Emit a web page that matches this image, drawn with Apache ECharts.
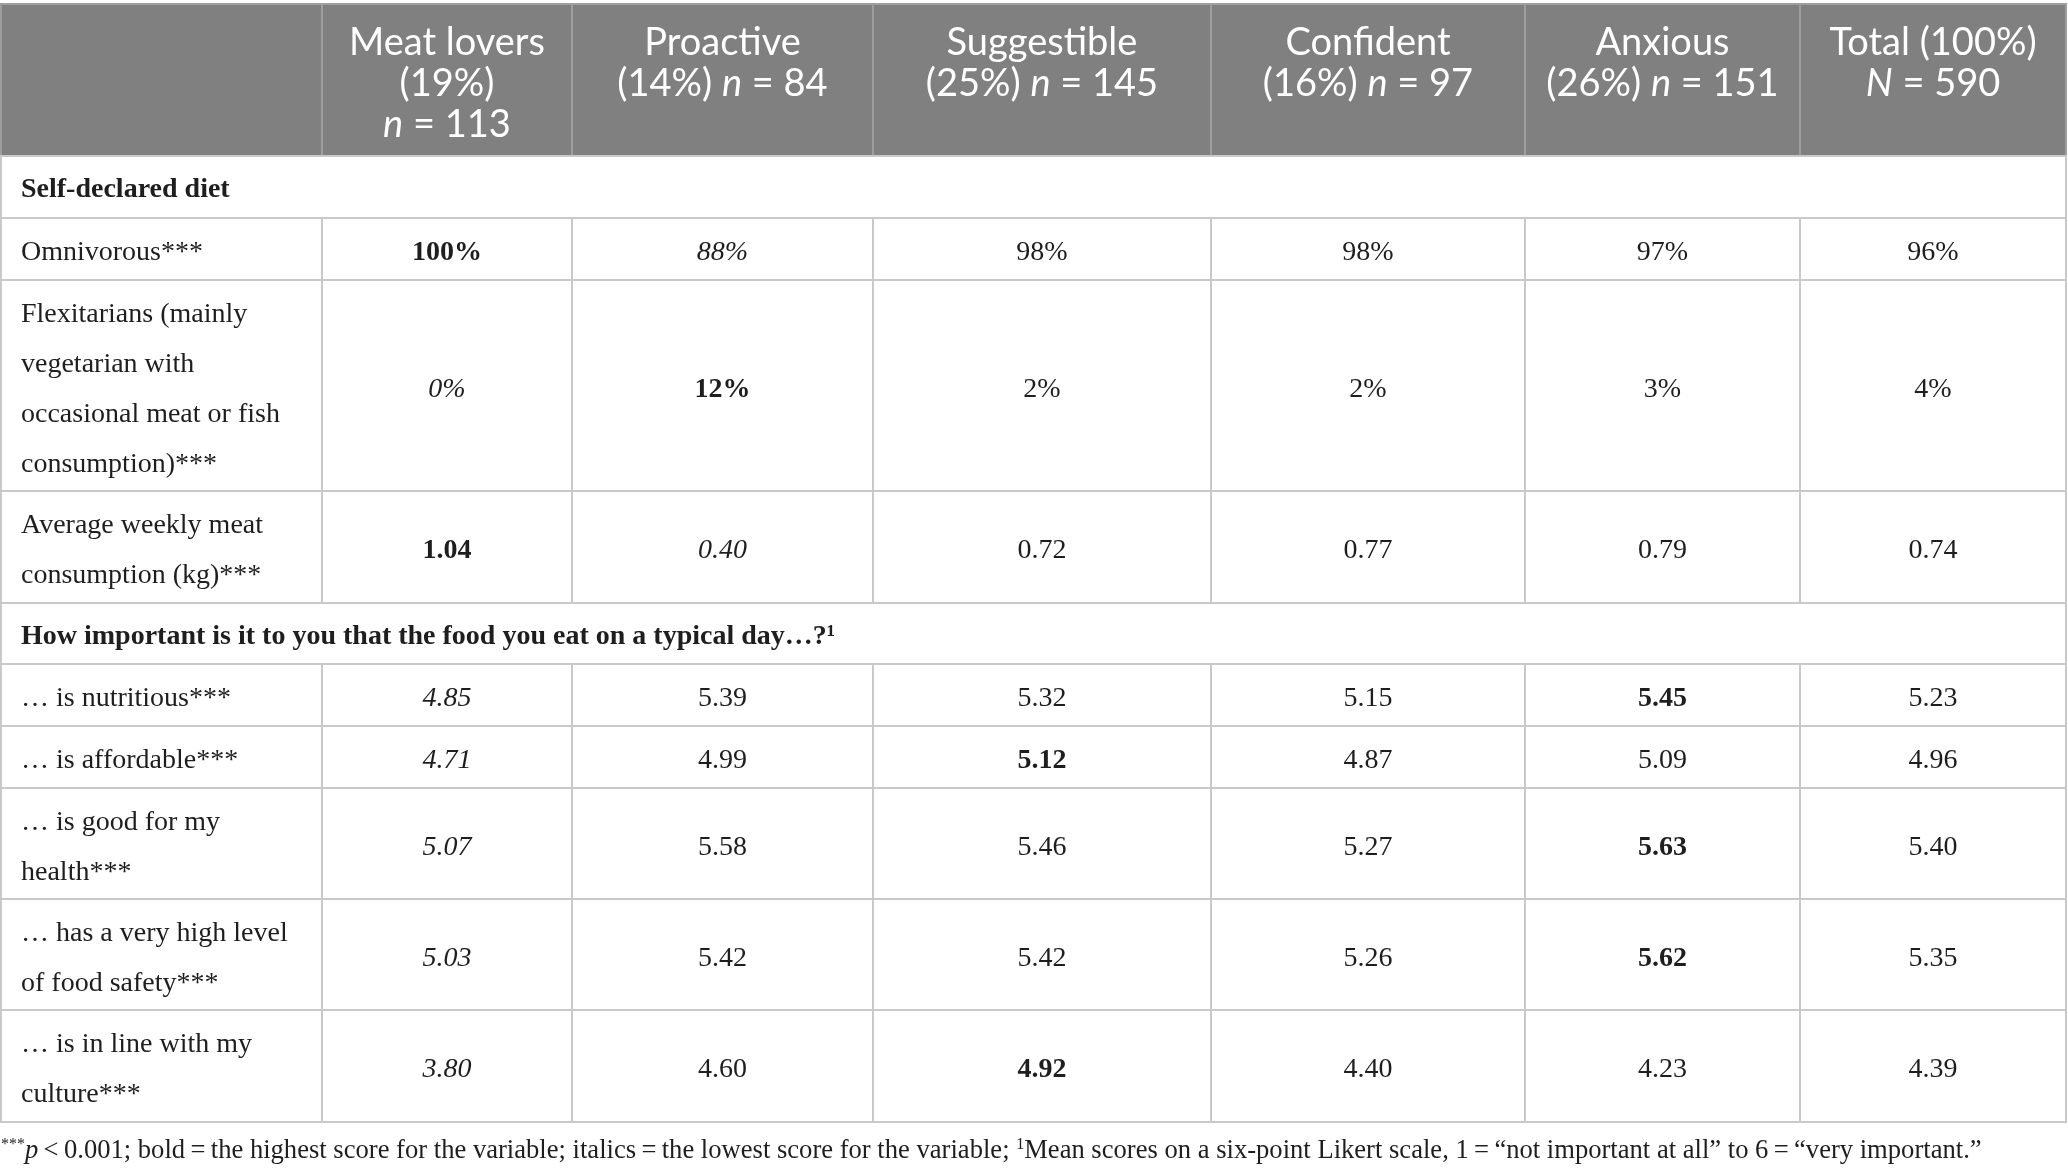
<!DOCTYPE html>
<html>
<head>
<meta charset="utf-8">
<script src="https://cdn.jsdelivr.net/npm/echarts@6/dist/echarts.min.js"></script>
<style>
  html, body { margin: 0; padding: 0; background: #fff; }
  #main { width: 2068px; height: 1176px; }
</style>
</head>
<body>
<div id="main"></div>
<script>
// column headers ({i|..} is italic)
var groupHeaders = [
  'Meat lovers\n(19%)\n{i|n} = 113',
  'Proactive\n(14%) {i|n} = 84',
  'Suggestible\n(25%) {i|n} = 145',
  'Confident\n(16%) {i|n} = 97',
  'Anxious\n(26%) {i|n} = 151',
  'Total (100%)\n{i|N} = 590'
];

// section 1
var dietTitle = 'Self-declared diet';
var dietLabels = [
  'Omnivorous***',
  'Flexitarians (mainly\nvegetarian with\noccasional meat or fish\nconsumption)***',
  'Average weekly meat\nconsumption (kg)***'
];
var dietUnits = ['%', '%', 'kg'];
var dietValues = [
  [100, 88, 98, 98, 97, 96],
  [0, 12, 2, 2, 3, 4],
  [1.04, 0.40, 0.72, 0.77, 0.79, 0.74]
];

// section 2
var importanceTitle = 'How important is it to you that the food you eat on a typical day\u2026?\u00b9';
var importanceLabels = [
  '\u2026 is nutritious***',
  '\u2026 is affordable***',
  '\u2026 is good for my\nhealth***',
  '\u2026 has a very high level\nof food safety***',
  '\u2026 is in line with my\nculture***'
];
var importanceValues = [
  [4.85, 5.39, 5.32, 5.15, 5.45, 5.23],
  [4.71, 4.99, 5.12, 4.87, 5.09, 4.96],
  [5.07, 5.58, 5.46, 5.27, 5.63, 5.40],
  [5.03, 5.42, 5.42, 5.26, 5.62, 5.35],
  [3.80, 4.60, 4.92, 4.40, 4.23, 4.39]
];

// layout (table grid lines, in axis units)
var colEdges = [1, 322, 572, 873, 1211, 1525, 1800, 2066];
var rowEdges = [4, 156, 218, 280, 491, 603, 664, 726, 788, 899, 1010, 1122];

var SERIF = '"Liberation Serif", "DejaVu Serif", serif';
var SANS = 'Lato, "Open Sans", sans-serif';
var cells = [];
var cellData = [];

function addCell(c, r, span, info) {
  cellData.push([c, r, span]);
  cells.push(info);
}

// header
addCell(0, 0, 1, { kind: 'head', text: '' });
groupHeaders.forEach(function (h, i) {
  addCell(i + 1, 0, 1, { kind: 'head', text: h });
});

function fmt(v, unit) {
  if (unit === '%') return v + '%';
  return v.toFixed(2);
}

function addSection(row, title, labels, values, units) {
  addCell(0, row, 7, { kind: 'section', text: title });
  labels.forEach(function (lab, k) {
    var r = row + 1 + k;
    addCell(0, r, 1, { kind: 'label', text: lab });
    var vals = values[k];
    var groups = vals.slice(0, 5); // highest / lowest among the five groups
    var hi = Math.max.apply(null, groups), lo = Math.min.apply(null, groups);
    vals.forEach(function (v, j) {
      var style = '';
      if (j < 5 && v === hi) style = 'bold';
      else if (j < 5 && v === lo) style = 'italic';
      addCell(j + 1, r, 1, { kind: 'value', text: fmt(v, units ? units[k] : ''), style: style });
    });
  });
}
addSection(1, dietTitle, dietLabels, dietValues, dietUnits);
addSection(5, importanceTitle, importanceLabels, importanceValues, null);

var myChart = echarts.init(document.getElementById('main'));

function renderItem(params, api) {
  var c = api.value(0), r = api.value(1), span = api.value(2);
  var p0 = api.coord([colEdges[c], rowEdges[r]]);
  var p1 = api.coord([colEdges[c + span], rowEdges[r + 1]]);
  var info = cells[params.dataIndex];
  var w = p1[0] - p0[0], h = p1[1] - p0[1];
  var isHead = info.kind === 'head';
  var rect = {
    type: 'rect',
    shape: { x: p0[0], y: p0[1], width: w, height: h },
    style: {
      fill: isHead ? '#808080' : '#ffffff',
      stroke: isHead ? '#9e9e9e' : '#c9c9c9',
      lineWidth: 2
    }
  };
  var ts;
  if (isHead) {
    ts = {
      text: info.text, x: p0[0] + w / 2, y: p0[1] + 18,
      align: 'center', verticalAlign: 'top',
      fontFamily: SANS, fontSize: 38, fill: '#ffffff', lineHeight: 41,
      rich: { i: { fontFamily: SANS, fontSize: 38, fontStyle: 'italic', fill: '#ffffff', lineHeight: 41 } }
    };
  } else if (info.kind === 'section') {
    ts = {
      text: info.text, x: p0[0] + 20, y: p0[1] + h / 2 + 3,
      align: 'left', verticalAlign: 'middle',
      fontFamily: SERIF, fontSize: 28, fontWeight: 'bold', fill: '#1e1e1e'
    };
  } else if (info.kind === 'label') {
    ts = {
      text: info.text, x: p0[0] + 20, y: p0[1] + h / 2 + 4,
      align: 'left', verticalAlign: 'middle',
      fontFamily: SERIF, fontSize: 28, fill: '#1e1e1e', lineHeight: 50
    };
  } else {
    ts = {
      text: info.text, x: p0[0] + w / 2, y: p0[1] + h / 2 + 4,
      align: 'center', verticalAlign: 'middle',
      fontFamily: SERIF, fontSize: 28, fill: '#1e1e1e',
      fontWeight: info.style === 'bold' ? 'bold' : 'normal',
      fontStyle: info.style === 'italic' ? 'italic' : 'normal'
    };
  }
  return {
    type: 'group',
    children: [rect, { type: 'text', style: ts, z2: 10 }]
  };
}

var T = '\u2009';
var option = {
  animation: false,
  title: {
    text: '{s|***}{i|p}' + T + '<' + T + '0.001; bold' + T + '=' + T + 'the highest score for the variable; italics' + T + '=' + T +
      'the lowest score for the variable; {s|1}Mean scores on a six-point Likert scale, 1' + T + '=' + T +
      '\u201cnot important at all\u201d to 6' + T + '=' + T + '\u201cvery important.\u201d',
    left: -4,
    top: 1128,
    textStyle: {
      fontFamily: SERIF, fontSize: 26.6, fontWeight: 'normal', color: '#1e1e1e', lineHeight: 36,
      rich: {
        s: { fontFamily: SERIF, fontSize: 16, color: '#1e1e1e', padding: [0, 0, 12, 0] },
        i: { fontFamily: SERIF, fontSize: 26.6, fontStyle: 'italic', color: '#1e1e1e' }
      }
    }
  },
  grid: { left: 0, right: 0, top: 0, bottom: 0 },
  xAxis: { type: 'value', min: 0, max: 2068, show: false },
  yAxis: { type: 'value', min: 0, max: 1176, inverse: true, show: false },
  series: [{
    type: 'custom',
    renderItem: renderItem,
    data: cellData,
    silent: true
  }]
};
myChart.setOption(option);
</script>
</body>
</html>
